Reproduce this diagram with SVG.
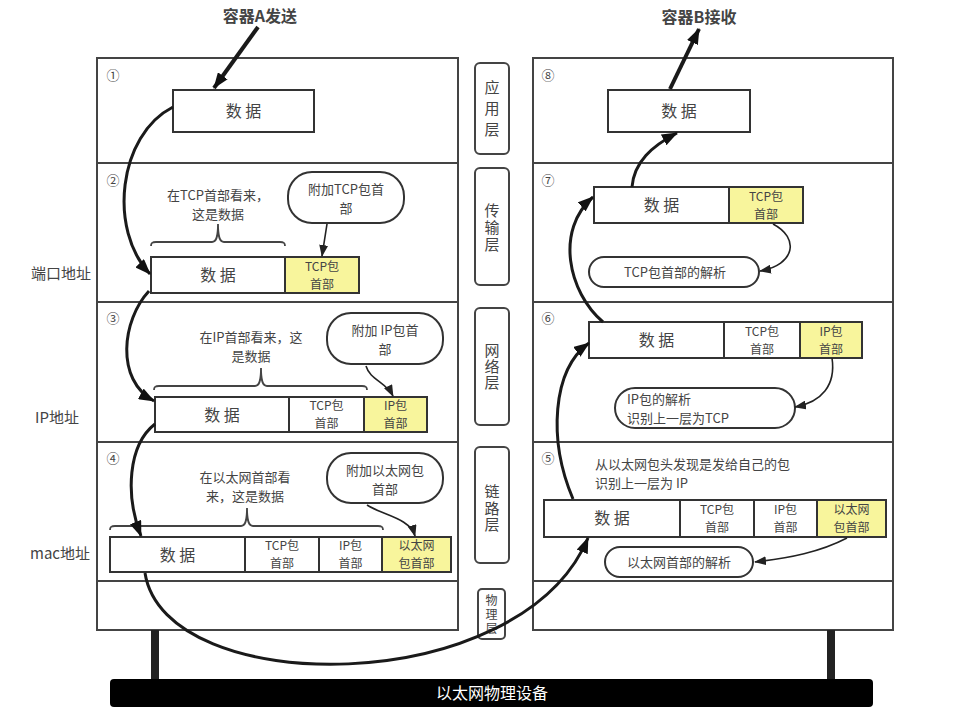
<svg xmlns="http://www.w3.org/2000/svg" width="978" height="717" viewBox="0 0 978 717">
<defs>
<marker id="big" viewBox="0 0 16 12" refX="15" refY="6" markerWidth="16" markerHeight="12" orient="auto" markerUnits="userSpaceOnUse"><path d="M0,0 L16,6 L0,12 z" fill="#111"/></marker>
<marker id="sm" viewBox="0 0 12 9" refX="11" refY="4.5" markerWidth="12" markerHeight="9" orient="auto" markerUnits="userSpaceOnUse"><path d="M0,0 L12,4.5 L0,9 z" fill="#222"/></marker>
</defs>
<style>
text{font-family:"Noto Sans CJK SC","Noto Sans",sans-serif;fill:#444}
.frame{fill:#fff;stroke:#444;stroke-width:2}
.div{stroke:#444;stroke-width:2}
.cell{fill:#fff;stroke:#333;stroke-width:2}
.hdr{fill:#f8f59c;stroke:#333;stroke-width:2}
.call{fill:#fff;stroke:#333;stroke-width:2}
.lay{fill:#fff;stroke:#444;stroke-width:2}
.t16{font-size:16px;text-anchor:middle}
.t13{font-size:13px;text-anchor:middle}
.t12{font-size:12px;text-anchor:middle}
.l13{font-size:13px}
.num{font-size:13px;text-anchor:middle}
.vert{writing-mode:vertical-rl;text-anchor:middle;font-size:15px}
.brace{fill:none;stroke:#444;stroke-width:1.8}
.thick{fill:none;stroke:#1a1a1a;stroke-width:3;marker-end:url(#big)}
.thin{fill:none;stroke:#222;stroke-width:1.6;marker-end:url(#sm)}
</style>
<rect width="978" height="717" fill="#fff"/>

<g id="hostA">
<rect class="frame" x="97" y="58" width="361" height="572"/>
<line class="div" x1="97" y1="163" x2="458" y2="163"/>
<line class="div" x1="97" y1="302" x2="458" y2="302"/>
<line class="div" x1="97" y1="442" x2="458" y2="442"/>
<line class="div" x1="97" y1="581" x2="458" y2="581"/>
<text class="num" x="113" y="80">①</text>
<text class="num" x="113" y="185">②</text>
<text class="num" x="113" y="323">③</text>
<text class="num" x="113" y="463">④</text>
</g>
<g id="hostB">
<rect class="frame" x="533" y="58" width="360" height="572"/>
<line class="div" x1="533" y1="163" x2="893" y2="163"/>
<line class="div" x1="533" y1="302" x2="893" y2="302"/>
<line class="div" x1="533" y1="442" x2="893" y2="442"/>
<line class="div" x1="533" y1="581" x2="893" y2="581"/>
<text class="num" x="548" y="80">⑧</text>
<text class="num" x="548" y="185">⑦</text>
<text class="num" x="548" y="323">⑥</text>
<text class="num" x="548" y="463">⑤</text>
</g>

<g id="layer-app"><rect class="lay" x="475" y="63" width="34" height="91" rx="5"/>
<text class="vert" x="492" y="111" style="letter-spacing:6px">应用层</text></g>
<g id="layer-transport"><rect class="lay" x="475" y="168" width="34" height="117" rx="5"/>
<text class="vert" x="492" y="228" style="letter-spacing:2px">传输层</text></g>
<g id="layer-network"><rect class="lay" x="475" y="308" width="34" height="117" rx="5"/>
<text class="vert" x="492" y="367" style="letter-spacing:1px">网络层</text></g>
<g id="layer-link"><rect class="lay" x="475" y="447" width="34" height="116" rx="5"/>
<text class="vert" x="492" y="509" style="letter-spacing:1.5px">链路层</text></g>
<g id="layer-phys"><rect class="lay" x="478" y="589" width="27" height="50" rx="4"/>
<text class="vert" x="491.5" y="615" style="font-size:12px;letter-spacing:2px">物理层</text></g>

<g id="side-labels">
<text x="61" y="279" style="font-size:15px;text-anchor:middle">端口地址</text>
<text x="57" y="423" style="font-size:15px;text-anchor:middle">IP地址</text>
<text x="60" y="559" style="font-size:15px;text-anchor:middle">mac地址</text>
</g>

<g id="title-a"><text x="260" y="22" style="font-size:16px;text-anchor:middle;font-weight:bold">容器A发送</text></g>
<g id="title-b"><text x="699" y="23" style="font-size:16px;text-anchor:middle;font-weight:bold">容器B接收</text></g>

<g id="a1-data"><rect class="cell" x="173" y="90" width="141" height="42"/><text class="t16" x="243.5" y="117">数 据</text></g>

<g id="a2-brace"><path class="brace" d="M151,246 C151,243 152,242 156,242 L212,242 C216,242 218,238 218,224 C218,238 220,242 224,242 L280,242 C284,242 285,243 285,246"/>
<text class="t13" x="218" y="200">在TCP首部看来，<tspan x="218" dy="19">这是数据</tspan></text></g>
<g id="a2-callout"><rect class="call" x="288" y="172" width="116" height="51" rx="24"/>
<text class="t13" x="346" y="194">附加TCP包首<tspan x="346" dy="19">部</tspan></text></g>
<g id="a2-packet"><rect class="cell" x="151" y="257" width="134" height="36"/><text class="t16" x="218" y="281">数 据</text>
<rect class="hdr" x="285" y="257" width="74" height="36"/><text class="t12" x="322" y="271">TCP包<tspan x="322" dy="17.5">首部</tspan></text></g>

<g id="a3-brace"><path class="brace" d="M154,390 C154,387 155,386 159,386 L255,386 C259,386 261,382 261,368 C261,382 263,386 267,386 L362,386 C366,386 367,387 367,390"/>
<text class="t13" x="251" y="342">在IP首部看来，这<tspan x="251" dy="19">是数据</tspan></text></g>
<g id="a3-callout"><rect class="call" x="327" y="313" width="116" height="51" rx="24"/>
<text class="t13" x="385" y="335">附加 IP包首<tspan x="385" dy="19">部</tspan></text></g>
<g id="a3-packet"><rect class="cell" x="155" y="397" width="134" height="35"/><text class="t16" x="222" y="421">数 据</text>
<rect class="cell" x="289" y="397" width="75" height="35"/><text class="t12" x="326.5" y="410">TCP包<tspan x="326.5" dy="17.5">首部</tspan></text>
<rect class="hdr" x="364" y="397" width="63" height="35"/><text class="t12" x="395.5" y="410">IP包<tspan x="395.5" dy="17.5">首部</tspan></text></g>

<g id="a4-brace"><path class="brace" d="M110,530 C110,527 111,526 115,526 L241,526 C245,526 247,522 247,508 C247,522 249,526 253,526 L378,526 C382,526 383,527 383,530"/>
<text class="t13" x="245" y="482">在以太网首部看<tspan x="245" dy="19">来，这是数据</tspan></text></g>
<g id="a4-callout"><rect class="call" x="327" y="453" width="116" height="50" rx="24"/>
<text class="t13" x="385" y="475">附加以太网包<tspan x="385" dy="19">首部</tspan></text></g>
<g id="a4-packet"><rect class="cell" x="110" y="537" width="135" height="35"/><text class="t16" x="177.5" y="561">数 据</text>
<rect class="cell" x="245" y="537" width="74" height="35"/><text class="t12" x="282" y="550">TCP包<tspan x="282" dy="17.5">首部</tspan></text>
<rect class="cell" x="319" y="537" width="63" height="35"/><text class="t12" x="350.5" y="550">IP包<tspan x="350.5" dy="17.5">首部</tspan></text>
<rect class="hdr" x="382" y="537" width="69" height="35"/><text class="t12" x="416.5" y="550">以太网<tspan x="416.5" dy="17.5">包首部</tspan></text></g>

<g id="b8-data"><rect class="cell" x="608" y="90" width="142" height="42"/><text class="t16" x="679" y="117">数 据</text></g>

<g id="b7-packet"><rect class="cell" x="594" y="187" width="135" height="36"/><text class="t16" x="661.5" y="211">数 据</text>
<rect class="hdr" x="729" y="187" width="74" height="36"/><text class="t12" x="766" y="201">TCP包<tspan x="766" dy="17.5">首部</tspan></text></g>
<g id="b7-parse"><rect class="call" x="589" y="257" width="170" height="30" rx="15"/><text class="t13" x="675" y="277">TCP包首部的解析</text></g>

<g id="b6-packet"><rect class="cell" x="589" y="322" width="135" height="36"/><text class="t16" x="656.5" y="346">数 据</text>
<rect class="cell" x="724" y="322" width="76" height="36"/><text class="t12" x="762" y="336">TCP包<tspan x="762" dy="17.5">首部</tspan></text>
<rect class="hdr" x="800" y="322" width="62" height="36"/><text class="t12" x="831" y="336">IP包<tspan x="831" dy="17.5">首部</tspan></text></g>
<g id="b6-parse"><rect class="call" x="615" y="388" width="180" height="40" rx="20"/>
<text class="l13" x="627" y="404">IP包的解析<tspan x="627" dy="19">识别上一层为TCP</tspan></text></g>

<g id="b5-note"><text class="l13" x="595" y="469">从以太网包头发现是发给自己的包<tspan x="595" dy="19">识别上一层为 IP</tspan></text></g>
<g id="b5-packet"><rect class="cell" x="544" y="500" width="136" height="37"/><text class="t16" x="612" y="524">数 据</text>
<rect class="cell" x="680" y="500" width="74" height="37"/><text class="t12" x="717" y="514">TCP包<tspan x="717" dy="17.5">首部</tspan></text>
<rect class="cell" x="754" y="500" width="63" height="37"/><text class="t12" x="785.5" y="514">IP包<tspan x="785.5" dy="17.5">首部</tspan></text>
<rect class="hdr" x="817" y="500" width="69" height="37"/><text class="t12" x="851.5" y="514">以太网<tspan x="851.5" dy="17.5">包首部</tspan></text></g>
<g id="b5-parse"><rect class="call" x="605" y="547" width="148" height="30" rx="15"/><text class="t13" x="679" y="567">以太网首部的解析</text></g>

<g id="ether">
<rect x="151" y="630" width="8" height="50" fill="#222"/>
<rect x="827" y="630" width="8" height="50" fill="#222"/>
<rect x="110" y="679" width="763" height="28" rx="4" fill="#000"/>
<text x="492" y="699" style="font-size:16px;text-anchor:middle;fill:#fff">以太网物理设备</text>
</g>

<g id="connectors">
<path class="thick" d="M258,27 L214,88" style="stroke-width:4"/>
<path class="thick" d="M670,89 L699,29" style="stroke-width:4"/>
<path class="thick" d="M173,107 C118,135 108,230 150,274"/>
<path class="thick" d="M149,291 C122,320 115,380 154,401"/>
<path class="thick" d="M155,424 C128,445 125,495 141,536"/>
<path class="thick" d="M145,573 C165,700 520,700 588,538"/>
<path class="thick" d="M573,499 C548,440 552,370 589,343"/>
<path class="thick" d="M603,322 C568,292 555,230 593,197"/>
<path class="thick" d="M632,187 C634,162 652,146 677,133"/>
<path class="thin" d="M327,224 L322,256"/>
<path class="thin" d="M366,366 C370,380 386,382 393,396"/>
<path class="thin" d="M367,505 C382,515 410,518 415,536"/>
<path class="thin" d="M773,224 C800,238 795,265 760,271"/>
<path class="thin" d="M832,358 C836,385 822,402 795,407"/>
<path class="thin" d="M847,538 C820,552 790,558 755,562"/>
</g>
</svg>
